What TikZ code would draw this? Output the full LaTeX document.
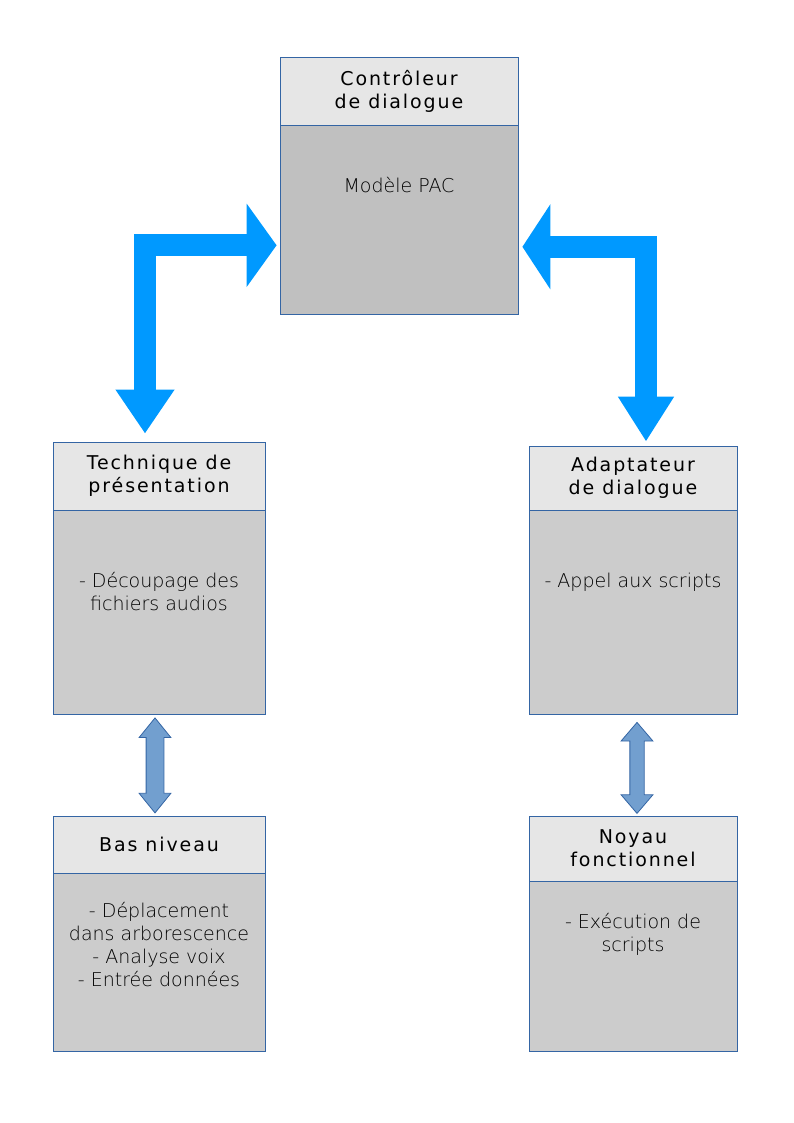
\documentclass[tikz,border=0pt]{standalone}
\usepackage{fontspec}
\setmainfont{DejaVu Sans}
\newfontfamily\headfont[LetterSpace=10]{DejaVu Sans}
\newfontfamily\lightfont{DejaVuSans-ExtraLight.ttf}
\usetikzlibrary{calc,arrows.meta,shapes.arrows,positioning}
\definecolor{myborder}{RGB}{52,101,164}
\definecolor{myhead}{RGB}{230,230,230}
\definecolor{mybody}{RGB}{204,204,204}
\definecolor{mytop}{RGB}{192,192,192}
\definecolor{mybig}{RGB}{0,153,255}
\definecolor{mysmall}{RGB}{114,159,207}
\tikzstyle{head}=[draw=myborder,fill=myhead,line width=0.8pt,inner sep=0pt,align=center,font=\headfont\fontsize{19}{23}\selectfont]
\tikzstyle{body}=[draw=myborder,fill=mybody,line width=0.8pt,inner sep=0pt,anchor=north]
\tikzstyle{bodytext}=[inner sep=0pt,anchor=north,align=center,font=\lightfont\fontsize{19}{23}\selectfont]
\tikzstyle{bigarrow}=[draw=mybig,line width=22pt]
\tikzstyle{smallarrow}=[draw=myborder,fill=mysmall,line width=0.8pt,double arrow,rotate=90,inner xsep=0pt,minimum width=0pt,double arrow head indent=0pt]

\begin{document}
\begin{tikzpicture}[x=1pt,y=-1pt]
\useasboundingbox (0,0) rectangle (794,1123);
% controleur
\draw (399,91) node [head, minimum width=238pt, minimum height=68pt] (ctlh) {Contrôleur\\ de dialogue};
\draw (ctlh.south) node [body, fill=mytop, minimum width=238pt, minimum height=189pt] (ctlb) {};
\draw ([yshift=-52pt]ctlb.north) node [bodytext] (ctlt) {Modèle PAC};
% presentation
\draw (159,476) node [head, minimum width=212pt, minimum height=68pt] (techh) {Technique de\\présentation};
\draw (techh.south) node [body, minimum width=212pt, minimum height=204pt] (techb) {};
\draw ([yshift=-62pt]techb.north) node [bodytext] (techt) {- Découpage des\\fichiers audios};
% adaptateur
\draw (633,478) node [head, minimum width=208pt, minimum height=64pt] (adah) {Adaptateur\\ de dialogue};
\draw (adah.south) node [body, minimum width=208pt, minimum height=204pt] (adab) {};
\draw ([yshift=-62pt]adab.north) node [bodytext] (adat) {- Appel aux scripts};
% bas niveau
\draw (159,844.5) node [head, minimum width=212pt, minimum height=57pt] (bash) {Bas niveau};
\draw (bash.south) node [body, minimum width=212pt, minimum height=178pt] (basb) {};
\draw ([yshift=-29pt]basb.north) node [bodytext] (bast) {- Déplacement\\dans arborescence\\- Analyse voix\\- Entrée données};
% noyau
\draw (633,848.5) node [head, minimum width=208pt, minimum height=65pt] (noyh) {Noyau\\fonctionnel};
\draw (noyh.south) node [body, minimum width=208pt, minimum height=170pt] (noyb) {};
\draw ([yshift=-32pt]noyb.north) node [bodytext] (noyt) {- Exécution de\\scripts};
% big arrows
\draw [bigarrow, {Triangle[width=82pt,length=30pt]}-{Triangle[width=56pt,length=44pt]}] ([xshift=-3pt,yshift=-25pt]ctlb.west) -| ([xshift=-14pt,yshift=8pt]techh.north);
\draw [bigarrow, {Triangle[width=84pt,length=28pt]}-{Triangle[width=53pt,length=45pt]}] ([xshift=4pt,yshift=-26.5pt]ctlb.east) -| ([xshift=13pt,yshift=4pt]adah.north);
% small arrows
\coordinate (lm) at ($(techb.south)!0.5!(bash.north)$);
\coordinate (rm) at ($(adab.south)!0.5!(noyh.north)$);
\node [smallarrow, inner ysep=8.5pt, double arrow head extend=7pt, double arrow tip angle=78, minimum height=95pt] (la) at ([xshift=-4pt]lm) {};
\node [smallarrow, inner ysep=6.75pt, double arrow head extend=8.75pt, double arrow tip angle=81, minimum height=91pt] (ra) at ([xshift=4pt,yshift=-2.5pt]rm) {};
\end{tikzpicture}
\end{document}
